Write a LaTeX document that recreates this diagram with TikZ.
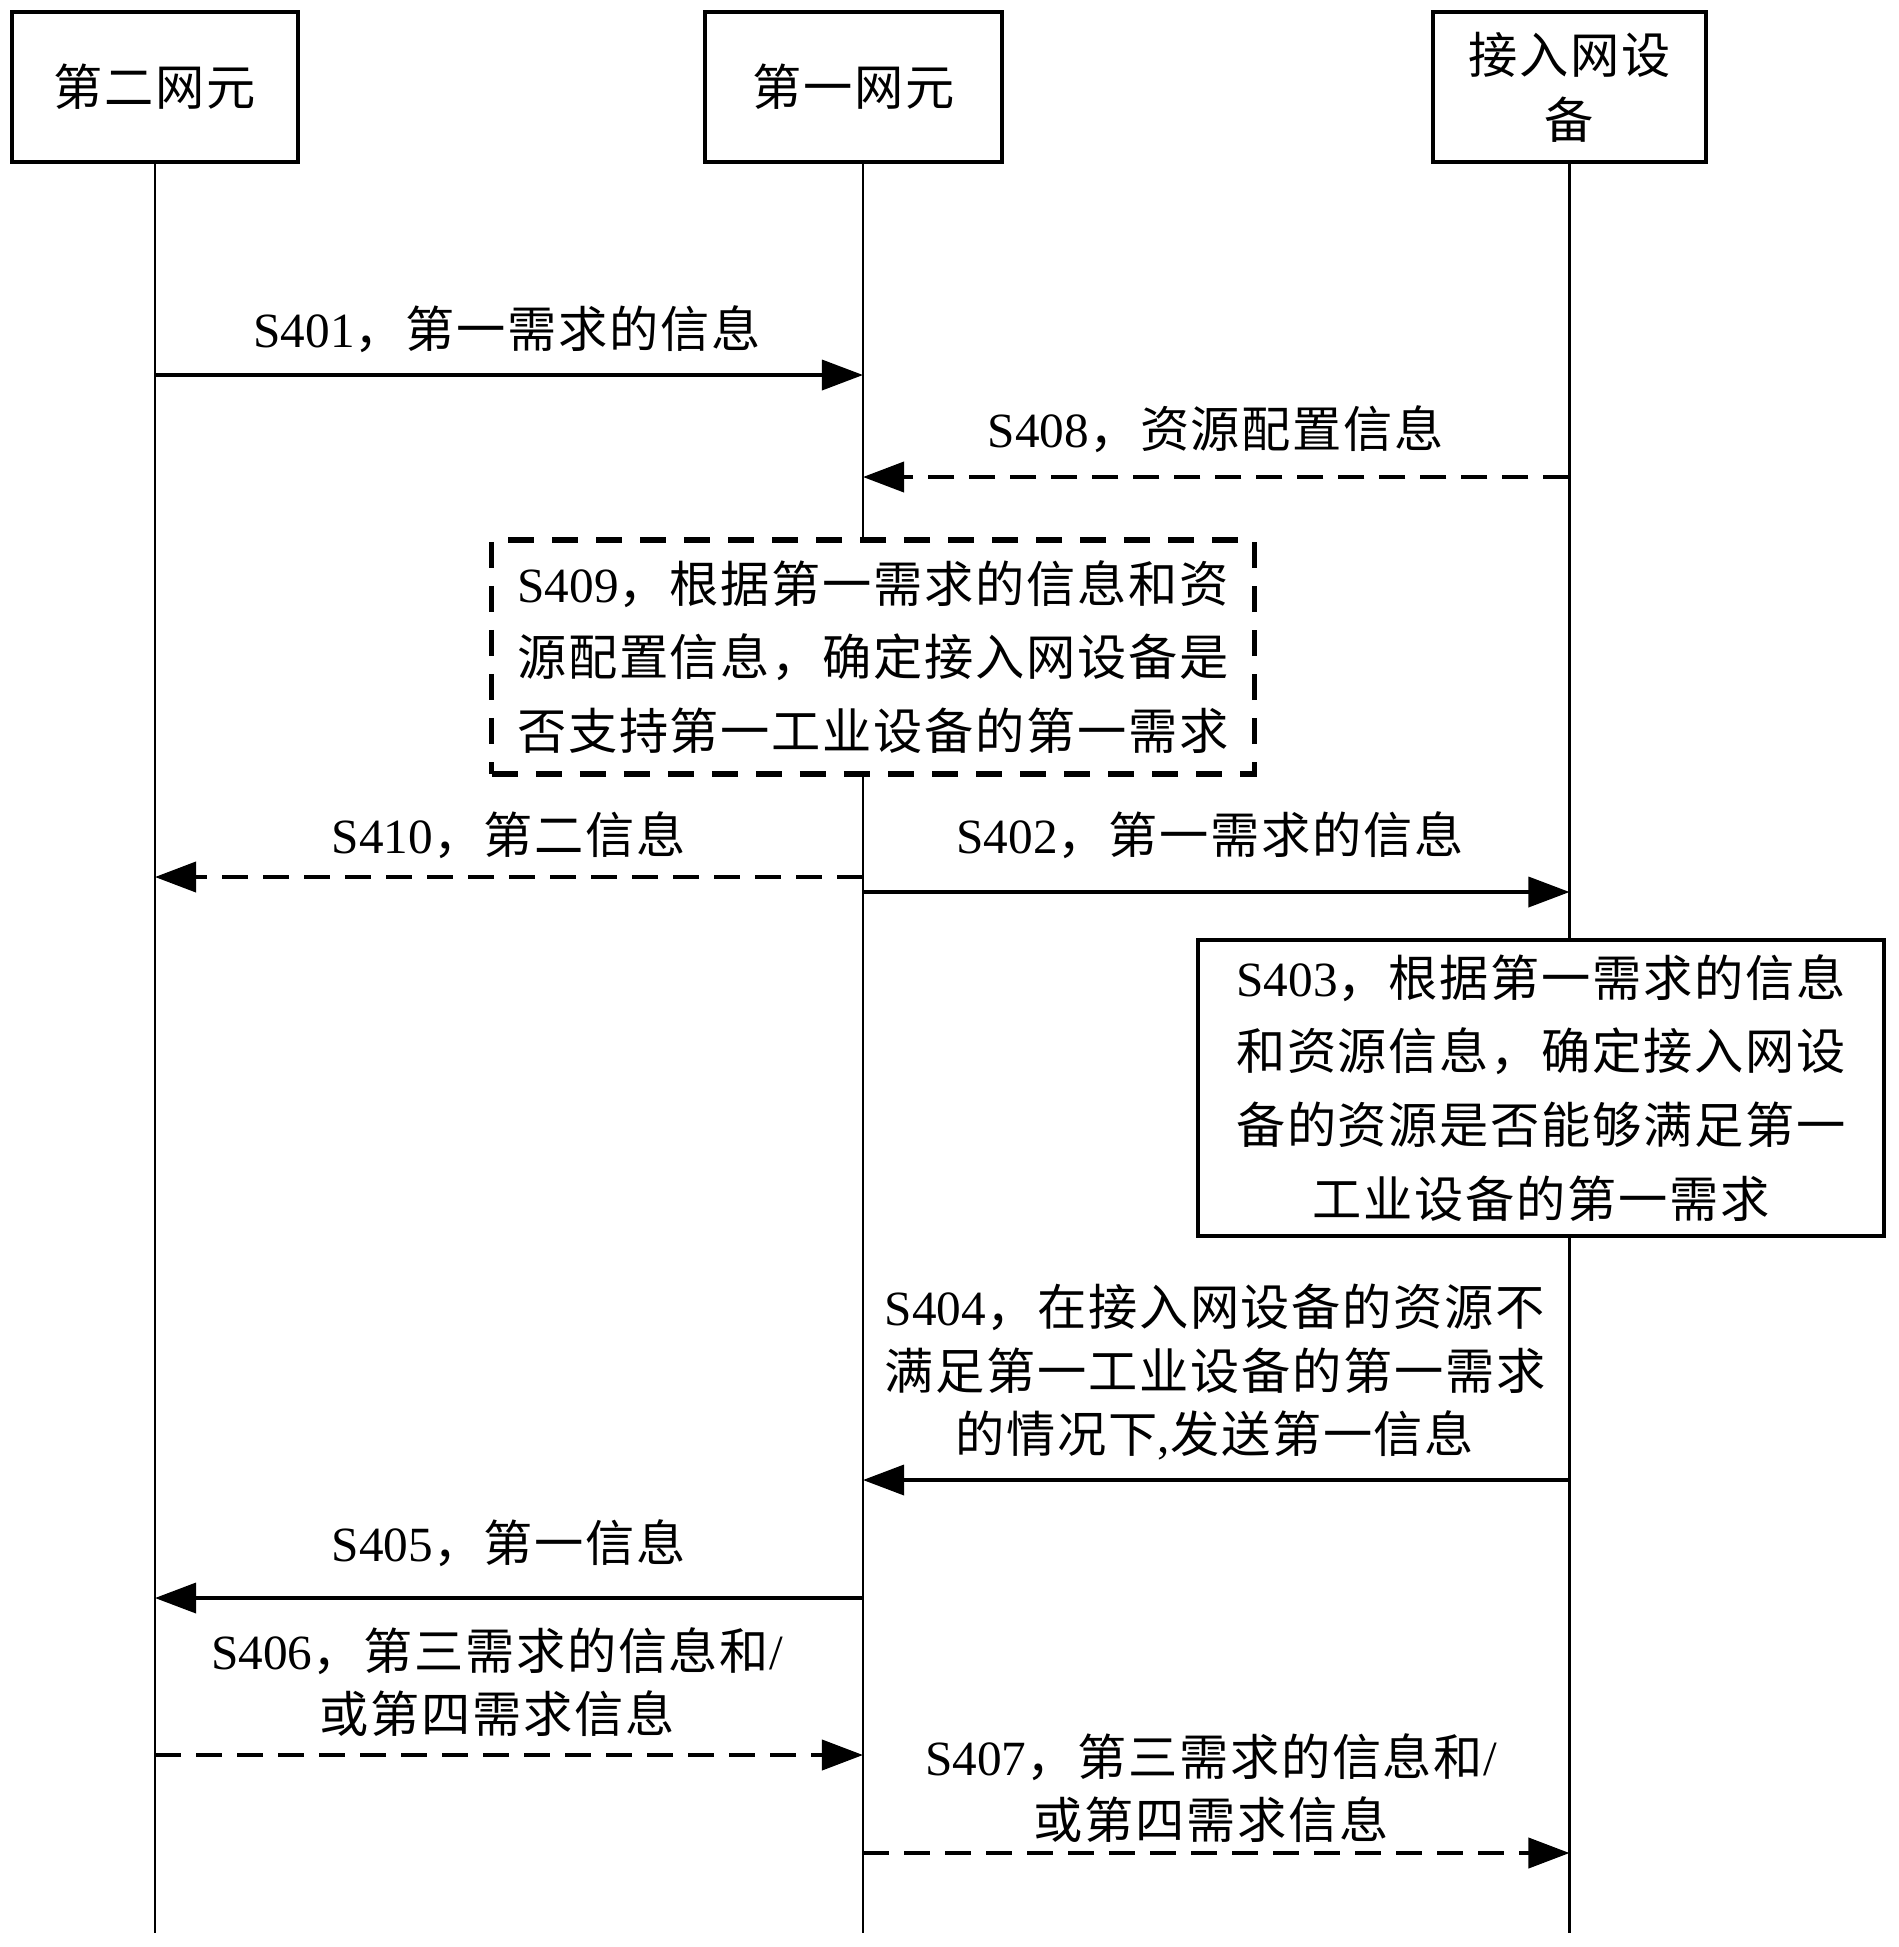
\documentclass[tikz,border=0pt]{standalone}
\usepackage{fontspec}
\setmainfont{Liberation Serif}
\newfontfamily\zhfont[LetterSpace=3.5]{Noto Sans CJK SC}
\newcommand{\zh}[1]{{\zhfont #1}}
\usetikzlibrary{arrows.meta,calc}
\usetikzlibrary{positioning}

\begin{document}
\begin{tikzpicture}[
  x=0.01cm, y=-0.01cm,
  head/.style={draw, line width=1.2pt, fill=white, minimum height=1.5cm, align=center, inner sep=0pt, font=\fontsize{14}{18.5}\selectfont},
  life/.style={line width=0.8pt},
  msg/.style={line width=1pt, -{Triangle[length=0.41cm, width=0.3cm]}},
  dmsg/.style={msg, line width=1.1pt, dash pattern=on 0.26cm off 0.15cm},
  lbl/.style={align=center, inner sep=0pt, font=\fontsize{14}{18}\selectfont},
  proc/.style={draw, line width=1.1pt, fill=white, align=center, inner sep=0pt, font=\fontsize{14}{21}\selectfont},
  dproc/.style={proc, line width=1.5pt, dash pattern=on 0.26cm off 0.18cm}
  ]
  \useasboundingbox (0,0) rectangle (1899,1947);

  % Entities
  \node[head, minimum width=2.86cm] (ne2) at (155,87) {\zh{第二网元}};
  \node[head, minimum width=2.97cm] (ne1) at (853.5,87) {\zh{第一网元}};
  \node[head, minimum width=2.73cm] (an) at (1569.5,87) {\zh{接入网设}\\\zh{备}};

  % Lifelines
  \coordinate (ln2) at (155,162);
  \coordinate (ln1) at (863,162);
  \coordinate (lan) at (1569.5,162);
  \coordinate (end) at (0,1933);
  \draw[life] (ln2) -- (ln2 |- end);
  \draw[life] (ln1) -- (ln1 |- end);
  \draw[life] (lan) -- (lan |- end);

  % S401
  \coordinate (m401) at (0,375);
  \draw[msg] (ln2 |- m401) -- (ln1 |- m401);
  \node[lbl] (t401) at (507,329) {S401\zh{，第一需求的信息}};

  % S408
  \coordinate (m408) at (0,477);
  \draw[dmsg] (lan |- m408) -- (ln1 |- m408);
  \node[lbl] (t408) at (1216,429) {S408\zh{，资源配置信息}};

  % S409
  \node[dproc, minimum width=7.62cm, minimum height=2.34cm] (p409) at (873,657)
    {S409\zh{，根据第一需求的信息和资}\\\zh{源配置信息，确定接入网设备是}\\\zh{否支持第一工业设备的第一需求}};

  % S410 and S402
  \coordinate (m410) at (0,877);
  \coordinate (m402) at (0,892);
  \draw[dmsg] (ln1 |- m410) -- (ln2 |- m410);
  \draw[msg] (ln1 |- m402) -- (lan |- m402);
  \node[lbl] (t410) at (509,835) {S410\zh{，第二信息}};
  \node[lbl] (t402) at (1210,835) {S402\zh{，第一需求的信息}};

  % S403
  \node[proc, minimum width=6.85cm, minimum height=2.96cm] (p403) at (1541,1088)
    {S403\zh{，根据第一需求的信息}\\\zh{和资源信息，确定接入网设}\\\zh{备的资源是否能够满足第一}\\\zh{工业设备的第一需求}};

  % S404
  \coordinate (m404) at (0,1480);
  \draw[msg] (lan |- m404) -- (ln1 |- m404);
  \node[lbl] (t404) at (1215,1372)
    {S404\zh{，在接入网设备的资源不}\\\zh{满足第一工业设备的第一需求}\\\zh{的情况下},\zh{发送第一信息}};

  % S405
  \coordinate (m405) at (0,1598);
  \draw[msg] (ln1 |- m405) -- (ln2 |- m405);
  \node[lbl] (t405) at (509,1543) {S405\zh{，第一信息}};

  % S406
  \coordinate (m406) at (0,1755);
  \draw[dmsg] (ln2 |- m406) -- (ln1 |- m406);
  \node[lbl] (t406) at (497,1682) {S406\zh{，第三需求的信息和}/\\\zh{或第四需求信息}};

  % S407
  \coordinate (m407) at (0,1853);
  \draw[dmsg] (ln1 |- m407) -- (lan |- m407);
  \node[lbl] (t407) at (1211,1788) {S407\zh{，第三需求的信息和}/\\\zh{或第四需求信息}};

\end{tikzpicture}
\end{document}
